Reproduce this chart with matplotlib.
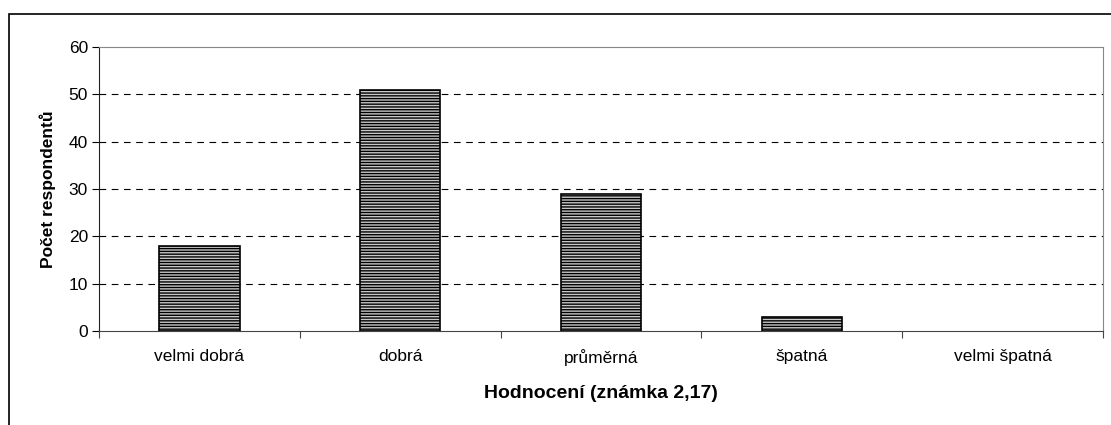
import matplotlib.pyplot as plt
import matplotlib.patches as mpatches
import numpy as np

plt.rcParams['font.family'] = ['Liberation Sans', 'DejaVu Sans']
plt.rcParams['hatch.color'] = '#3a3a3a'
plt.rcParams['hatch.linewidth'] = 1.0

categories = ['velmi dobrá', 'dobrá', 'průměrná', 'špatná', 'velmi špatná']
counts = [18, 51, 29, 3, 0]

fig = plt.figure(figsize=(11.11, 4.25), dpi=100)
ax = fig.add_axes([99 / 1111, 94 / 425, 1004 / 1111, 284 / 425])

x = np.arange(len(categories))
ax.bar(x, counts, width=0.4, color='#c8c8c8', edgecolor='black',
       linewidth=[1.2 if c > 0 else 0 for c in counts], hatch='------', zorder=3)

ax.set_xlim(-0.5, len(categories) - 0.5)
ax.set_ylim(0, 60)
ax.set_yticks(range(0, 61, 10))
ax.set_xticks(np.arange(-0.5, len(categories)), labels=[])
ax.set_xticks(x, labels=categories, minor=True)
ax.tick_params(axis='x', which='minor', length=0, pad=13, labelsize=12.5)
ax.tick_params(axis='x', which='major', length=5, direction='out', color='#444444')
ax.tick_params(axis='y', length=5, direction='out', labelsize=12.5, pad=3)

for v in range(10, 60, 10):
    ax.axhline(v, color='black', linestyle=(0, (6, 5)), linewidth=0.8, zorder=1)

ax.spines['top'].set_color('#888888')
ax.spines['right'].set_color('#888888')
ax.spines['left'].set_color('#222222')
ax.spines['bottom'].set_color('#444444')

ax.set_ylabel('Počet respondentů', fontsize=12.5, fontweight='bold', labelpad=9)
ax.set_xlabel('Hodnocení (známka 2,17)', fontsize=14, fontweight='bold', labelpad=14)

border = mpatches.Rectangle((9 / 1111, -0.05), 1.2, (425 - 14) / 425 + 0.05,
                            transform=fig.transFigure, fill=False,
                            edgecolor='black', linewidth=1.2)
fig.patches.append(border)

fig.savefig('out.png', dpi=100)
